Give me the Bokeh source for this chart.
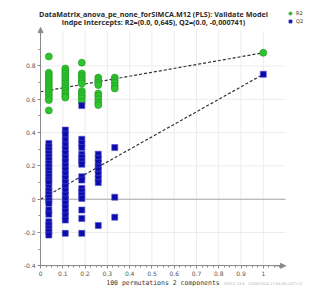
from bokeh.plotting import figure
from bokeh.models import (Legend, LegendItem, Arrow, NormalHead, FixedTicker, Label)
from bokeh.embed import file_html
from bokeh.resources import INLINE

# permutation correlation (x) for each column of permuted models
perm_corr = [0.037, 0.111, 0.185, 0.259, 0.333]

r2_col1 = [0.857, 0.76, 0.745, 0.73, 0.715, 0.70, 0.685, 0.67, 0.655, 0.64, 0.625, 0.61, 0.595, 0.533]
r2_col2 = [0.785, 0.77, 0.755, 0.74, 0.725, 0.71, 0.695, 0.68, 0.665, 0.65, 0.635, 0.62, 0.61]
r2_col3 = [0.82, 0.755, 0.74, 0.725, 0.71, 0.695, 0.65, 0.635, 0.62, 0.605, 0.585]
r2_col4 = [0.73, 0.715, 0.70, 0.685, 0.635, 0.62, 0.60, 0.58, 0.565]
r2_col5 = [0.73, 0.715, 0.70, 0.68, 0.665]

q2_col1 = [0.335, 0.315, 0.295, 0.275, 0.255, 0.235, 0.215, 0.195, 0.175, 0.155, 0.135, 0.115, 0.10,
           0.07, 0.05, 0.03, 0.01, -0.01, -0.025, -0.065, -0.09, -0.135, -0.155, -0.175, -0.195, -0.215]
q2_col2 = [0.415, 0.39, 0.355, 0.325, 0.3, 0.275, 0.25, 0.225, 0.2, 0.175, 0.15, 0.125, 0.1, 0.075,
           0.05, 0.025, 0.0, -0.025, -0.05, -0.075, -0.1, -0.125, -0.205]
q2_col3 = [0.562, 0.36, 0.335, 0.31, 0.27, 0.25, 0.23, 0.21, 0.135, 0.115, 0.065, 0.045, 0.025, 0.005,
           -0.065, -0.115, -0.205]
q2_col4 = [0.27, 0.245, 0.22, 0.195, 0.175, 0.15, 0.125, 0.1, -0.158]
q2_col5 = [0.31, 0.012, -0.108]

model_x = 1.0
r2_model = 0.879
q2_model = 0.75
r2_intercept = 0.645
q2_intercept = -0.000741

x_ticks = [0, 0.1, 0.2, 0.3, 0.4, 0.5, 0.6, 0.7, 0.8, 0.9, 1]
x_labels = ["0", "0.1", "0.2", "0.3", "0.4", "0.5", "0.6", "0.7", "0.8", "0.9", "1"]
y_ticks = [-0.4, -0.2, 0, 0.2, 0.4, 0.6, 0.8]
y_labels = ["-0.4", "-0.2", "0", "0.2", "0.4", "0.6", "0.8"]

title1 = "DataMatrix_anova_pe_none_forSIMCA.M12 (PLS): Validate Model"
title2 = "indpe Intercepts: R2=(0.0, 0,645), Q2=(0.0, -0,000741)"
x_label = "100 permutations 2 components"
footer = "SIMCA 13.0 - 22/06/2014 17:05:00 (UTC+2)"

# axis extents
x_axis_min, x_axis_max = 0.0, 1.1
y_axis_min, y_axis_max = -0.4, 1.03
grid_top = 1.01

r2_cols = [r2_col1, r2_col2, r2_col3, r2_col4, r2_col5]
q2_cols = [q2_col1, q2_col2, q2_col3, q2_col4, q2_col5]
r2_x, r2_y, q2_x, q2_y = [], [], [], []
for cx, ys in zip(perm_corr, r2_cols):
    r2_x += [cx] * len(ys)
    r2_y += ys
for cx, ys in zip(perm_corr, q2_cols):
    q2_x += [cx] * len(ys)
    q2_y += ys
r2_x.append(model_x); r2_y.append(r2_model)
q2_x.append(model_x); q2_y.append(q2_model)

# the frame fills the whole canvas; axes sit at fixed positions inside it
p = figure(frame_width=312, frame_height=291, x_range=(-0.18, 1.221), y_range=(-0.554, 1.193),
           output_backend="svg", toolbar_location=None,
           min_border_left=0, min_border_right=0, min_border_top=0, min_border_bottom=0)
p.title_location = None
p.outline_line_color = None
p.background_fill_color = "white"
p.xgrid.visible = False
p.ygrid.visible = False

for ax in (p.xaxis[0], p.yaxis[0]):
    ax.axis_line_color = "#8a8a8a"
    ax.major_tick_line_color = "#8a8a8a"
    ax.minor_tick_line_color = "#8a8a8a"
    ax.major_tick_in = 0
    ax.major_tick_out = 3
    ax.minor_tick_in = 0
    ax.minor_tick_out = 2
    ax.major_label_text_font = "DejaVu Sans"
    ax.major_label_text_font_size = "6px"
    ax.major_label_text_color = "#555555"
    ax.major_label_standoff = 2

p.xaxis.fixed_location = y_axis_min
p.yaxis.fixed_location = x_axis_min
p.xaxis.bounds = (x_axis_min, x_axis_max)
p.yaxis.bounds = (y_axis_min, y_axis_max)
p.xaxis.ticker = FixedTicker(ticks=x_ticks, minor_ticks=[i * 0.025 for i in range(44)])
p.yaxis.ticker = FixedTicker(ticks=y_ticks, minor_ticks=[-0.4 + i * 0.1 for i in range(14)])
p.xaxis.major_label_overrides = dict(zip(x_ticks, x_labels))
p.yaxis.major_label_overrides = dict(zip(y_ticks, y_labels))
p.xaxis.axis_label = x_label
p.xaxis.axis_label_text_font = "DejaVu Sans Mono"
p.xaxis.axis_label_text_font_size = "6.5px"
p.xaxis.axis_label_text_font_style = "normal"
p.xaxis.axis_label_text_color = "#333333"
p.xaxis.axis_label_standoff = 0

# grid lines (drawn from the tick arrays)
p.segment(x0=x_ticks, y0=[y_axis_min] * len(x_ticks), x1=x_ticks, y1=[grid_top] * len(x_ticks),
          line_color="#ececec", line_width=1)
p.segment(x0=[x_axis_min] * len(y_ticks), y0=y_ticks, x1=[x_axis_max] * len(y_ticks), y1=y_ticks,
          line_color="#ececec", line_width=1)
p.segment(x0=[x_axis_min], y0=[0], x1=[x_axis_max], y1=[0], line_color="#a8a8a8", line_width=1)

# regression lines
p.line([0, model_x], [r2_intercept, r2_model], line_color="#333333", line_dash="3 2", line_width=1.2)
p.line([0, model_x], [q2_intercept, q2_model], line_color="#333333", line_dash="3 2", line_width=1.2)

r2r = p.scatter(r2_x, r2_y, marker="circle", size=7, fill_color="#2ec42e", line_color="#209420",
                line_width=0.6)
q2r = p.scatter(q2_x, q2_y, marker="square", size=6, fill_color="#0c0cac", line_color="#4a4ac8",
                line_width=0.6)

# axis arrows
p.add_layout(Arrow(end=NormalHead(size=5, fill_color="#8a8a8a", line_color="#8a8a8a"),
                   x_start=1.05, y_start=y_axis_min, x_end=x_axis_max, y_end=y_axis_min,
                   line_color="#8a8a8a", line_width=1))
p.add_layout(Arrow(end=NormalHead(size=5, fill_color="#8a8a8a", line_color="#8a8a8a"),
                   x_start=0, y_start=0.98, x_end=0, y_end=y_axis_max,
                   line_color="#8a8a8a", line_width=1))

# titles
p.add_layout(Label(x=0.507, y=1.109, text=title1, text_align="center", text_baseline="middle",
                   text_font="Open Sans", text_font_size="7.2px", text_font_style="bold",
                   text_color="#2a2a2a"))
p.add_layout(Label(x=0.507, y=1.061, text=title2, text_align="center", text_baseline="middle",
                   text_font="Open Sans", text_font_size="7.2px", text_font_style="bold",
                   text_color="#2a2a2a"))

# footer
p.add_layout(Label(x=1.176, y=-0.509, text=footer, text_align="right", text_baseline="middle",
                   text_font="DejaVu Sans", text_font_size="3.6px", text_color="#b0b0b0"))

legend = Legend(items=[LegendItem(label="R2", renderers=[r2r]),
                       LegendItem(label="Q2", renderers=[q2r])],
                location=(286, 266), label_text_font="DejaVu Sans", label_text_font_size="5px",
                label_text_color="#333333", glyph_width=8, glyph_height=8, label_height=8,
                spacing=0, padding=0, margin=0, border_line_color=None,
                background_fill_alpha=0, label_standoff=2)
p.add_layout(legend)

open("out.html", "w").write(file_html(p, INLINE))
